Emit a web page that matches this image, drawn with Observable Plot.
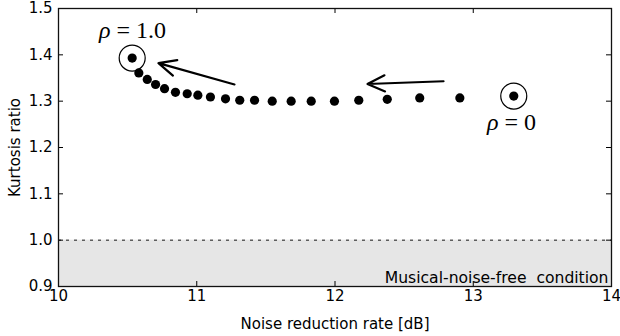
<!DOCTYPE html>
<html>
<head>
<meta charset="utf-8">
<script src="https://cdn.jsdelivr.net/npm/d3@7"></script>
<script src="https://cdn.jsdelivr.net/npm/@observablehq/plot@0.6"></script>
<style>
  html, body { margin: 0; padding: 0; background: #fff; }
  svg { display: block; }
</style>
</head>
<body>
<div id="chart"></div>
<script>
// Data
const noiseReduction = [10.533, 10.581, 10.642, 10.702, 10.767, 10.846, 10.931, 11.008, 11.099, 11.208,
  11.311, 11.418, 11.546, 11.683, 11.828, 11.996, 12.172, 12.378, 12.613, 12.903, 13.293];
const kurtosisRatio = [1.393, 1.361, 1.347, 1.336, 1.327, 1.319, 1.316, 1.313, 1.309, 1.305,
  1.302, 1.302, 1.300, 1.300, 1.300, 1.300, 1.302, 1.304, 1.307, 1.307, 1.311];
const circledIdx = [0, 20];
const labelTexts = ["ρ = 1.0", "ρ = 0"];
const labelX = [10.535, 13.277];
const labelY = [1.452, 1.255];
const arrowX1 = [11.273, 12.785];
const arrowY1 = [1.336, 1.343];
const arrowX2 = [10.723, 12.235];
const arrowY2 = [1.382, 1.337];
const xTicks = [10, 11, 12, 13, 14];
const yTicks = [0.9, 1.0, 1.1, 1.2, 1.3, 1.4, 1.5];
const xDomain = [10, 14];
const yDomain = [0.9, 1.5];
const threshold = 1.0;
const regionLabel = "Musical-noise-free  condition";

const points = noiseReduction.map((x, i) => ({x, y: kurtosisRatio[i]}));
const circled = circledIdx.map(i => points[i]);
const labels = labelTexts.map((t, i) => ({t, x: labelX[i], y: labelY[i]}));
const arrows = arrowX1.map((x1, i) => ({x1, y1: arrowY1[i], x2: arrowX2[i], y2: arrowY2[i]}));

const W = 620, H = 336, mT = 8, mB = 50, mL = 58, mR = 9;
const plotW = W - mL - mR, plotH = H - mT - mB;
const tickLen = 5;

const chart = Plot.plot({
  width: W, height: H,
  marginTop: mT, marginBottom: mB, marginLeft: mL, marginRight: mR,
  style: {fontFamily: "DejaVu Sans", fontSize: "15px", color: "#000", background: "#fff"},
  x: {domain: xDomain},
  y: {domain: yDomain},
  marks: [
    Plot.rect([{x1: xDomain[0], x2: xDomain[1], y1: yDomain[0], y2: threshold}],
      {x1: "x1", x2: "x2", y1: "y1", y2: "y2", fill: "#e6e6e6"}),
    Plot.ruleY([threshold], {stroke: "#000", strokeWidth: 0.9, strokeDasharray: "3,5"}),
    Plot.text([regionLabel], {text: d => d, frameAnchor: "bottom-right", textAnchor: "end",
      lineAnchor: "bottom", dx: -3, dy: -4, fontSize: 15.6, fill: "#000"}),
    // inside ticks
    Plot.tickX(xTicks, {x: d => d, insetTop: plotH - tickLen, stroke: "#000", strokeWidth: 1}),
    Plot.tickX(xTicks, {x: d => d, insetBottom: plotH - tickLen, stroke: "#000", strokeWidth: 1}),
    Plot.tickY(yTicks, {y: d => d, insetRight: plotW - tickLen, stroke: "#000", strokeWidth: 1}),
    Plot.tickY(yTicks, {y: d => d, insetLeft: plotW - tickLen, stroke: "#000", strokeWidth: 1}),
    Plot.axisX({ticks: xTicks, tickSize: 0, tickPadding: 4, tickFormat: d => String(d),
      label: "Noise reduction rate [dB]", labelAnchor: "center", labelArrow: "none", labelOffset: 42}),
    Plot.axisY({ticks: yTicks, tickSize: 0, tickPadding: 6, tickFormat: d3.format(".1f"),
      label: "Kurtosis ratio", labelAnchor: "center", labelArrow: "none", labelOffset: 49}),
    Plot.dot(points, {x: "x", y: "y", r: 4.6, fill: "#000", stroke: "none"}),
    Plot.dot(circled, {x: "x", y: "y", r: 13, fill: "none", stroke: "#000", strokeWidth: 1.2}),
    Plot.arrow(arrows, {x1: "x1", y1: "y1", x2: "x2", y2: "y2", stroke: "#000", strokeWidth: 2.2,
      headLength: 13, headAngle: 50}),
    Plot.text(labels, {x: "x", y: "y", text: "t", fontSize: 24, fontFamily: "Liberation Serif",
      fill: "#000", className: "rho-label"}),
    Plot.frame({stroke: "#111", strokeWidth: 1.3})
  ]
});

// italicize rho in the math labels
d3.select(chart).selectAll(".rho-label text").each(function() {
  const el = d3.select(this);
  const t = el.text();
  el.text("");
  el.append("tspan").attr("font-style", "italic").text(t.slice(0, 1));
  el.append("tspan").text(t.slice(1));
});

document.getElementById("chart").appendChild(chart);
</script>
</body>
</html>
